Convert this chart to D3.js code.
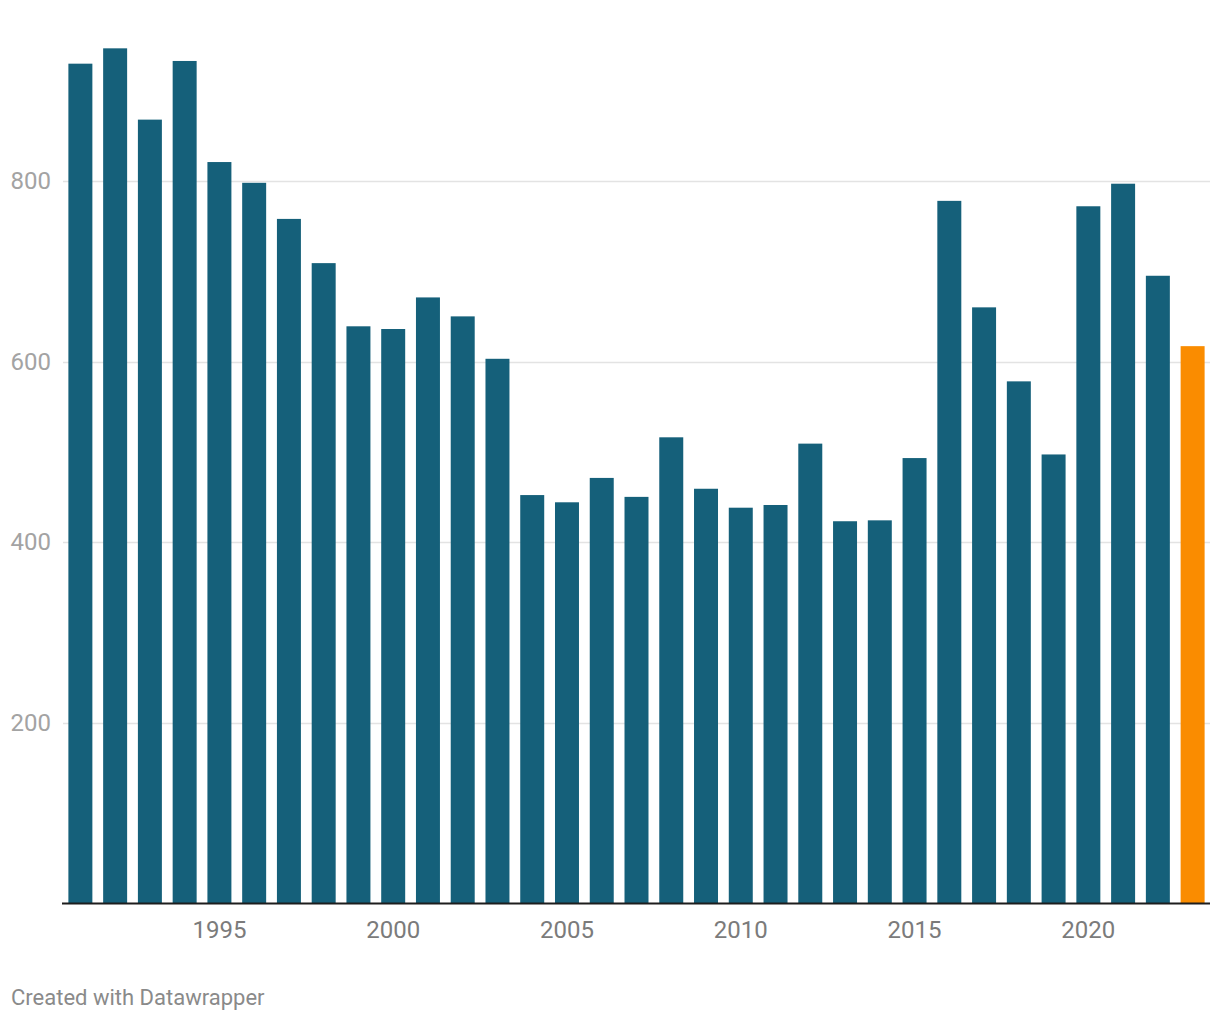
<!DOCTYPE html>
<html>
<head>
<meta charset="utf-8">
<script src="https://cdn.jsdelivr.net/npm/d3@7"></script>
<style>
  html, body { margin: 0; padding: 0; background: #fff; }
  svg { display: block; font-family: Roboto, "Noto Sans", sans-serif; }
</style>
</head>
<body>
<svg id="chart" width="1220" height="1020"></svg>
<script>
const years = [1991,1992,1993,1994,1995,1996,1997,1998,1999,2000,2001,2002,2003,2004,2005,2006,2007,2008,2009,2010,2011,2012,2013,2014,2015,2016,2017,2018,2019,2020,2021,2022,2023];
const values = [930,947,868,933,821,798,758,709,639,636,671,650,603,452,444,471,450,516,459,438,441,509,423,424,493,778,660,578,497,772,797,695,617];
const highlightYears = [2023];
const yTicks = [200,400,600,800];
const xTickLabels = [1995,2000,2005,2010,2015,2020];
const footerText = "Created with Datawrapper";

const svg = d3.select("#chart");
const left = 63, right = 1210, bottom = 903;

const x = d3.scaleBand().domain(years).range([left, right]).paddingInner(0.31).paddingOuter(0.155);
const y = d3.scaleLinear().domain([0, 1000]).range([bottom, bottom - 902.5]);

// gridlines
svg.append("g").selectAll("line").data(yTicks).join("line")
  .attr("x1", left).attr("x2", right)
  .attr("y1", d => Math.round(y(d)) + 0.5).attr("y2", d => Math.round(y(d)) + 0.5)
  .attr("stroke", "#e3e3e3").attr("stroke-width", 1.5);

// y labels
svg.append("g").selectAll("text").data(yTicks).join("text")
  .attr("x", 51).attr("y", d => y(d)).attr("dy", "0.35em")
  .attr("text-anchor", "end").attr("fill", "#a3a3a3")
  .style("font-size", "24px").text(d => d);

// bars
svg.append("g").selectAll("rect").data(years).join("rect")
  .attr("x", d => x(d)).attr("width", x.bandwidth())
  .attr("y", (d, i) => y(values[i])).attr("height", (d, i) => y(0) - y(values[i]))
  .attr("fill", d => highlightYears.includes(d) ? "#fa8c00" : "#15607a");

// baseline
svg.append("line").attr("x1", 62).attr("x2", right).attr("y1", bottom + 0.5).attr("y2", bottom + 0.5)
  .attr("stroke", "#1d1d1d").attr("stroke-width", 2);

// x labels
svg.append("g").selectAll("text").data(xTickLabels).join("text")
  .attr("x", d => x(d) + x.bandwidth() / 2).attr("y", 930).attr("dy", "0.35em")
  .attr("text-anchor", "middle").attr("fill", "#7b7b7b")
  .style("font-size", "24px").text(d => d);

// footer
svg.append("text").attr("x", 11).attr("y", 997).attr("dy", "0.35em")
  .attr("fill", "#8a8a8a").style("font-size", "22px").text(footerText);
</script>
</body>
</html>
